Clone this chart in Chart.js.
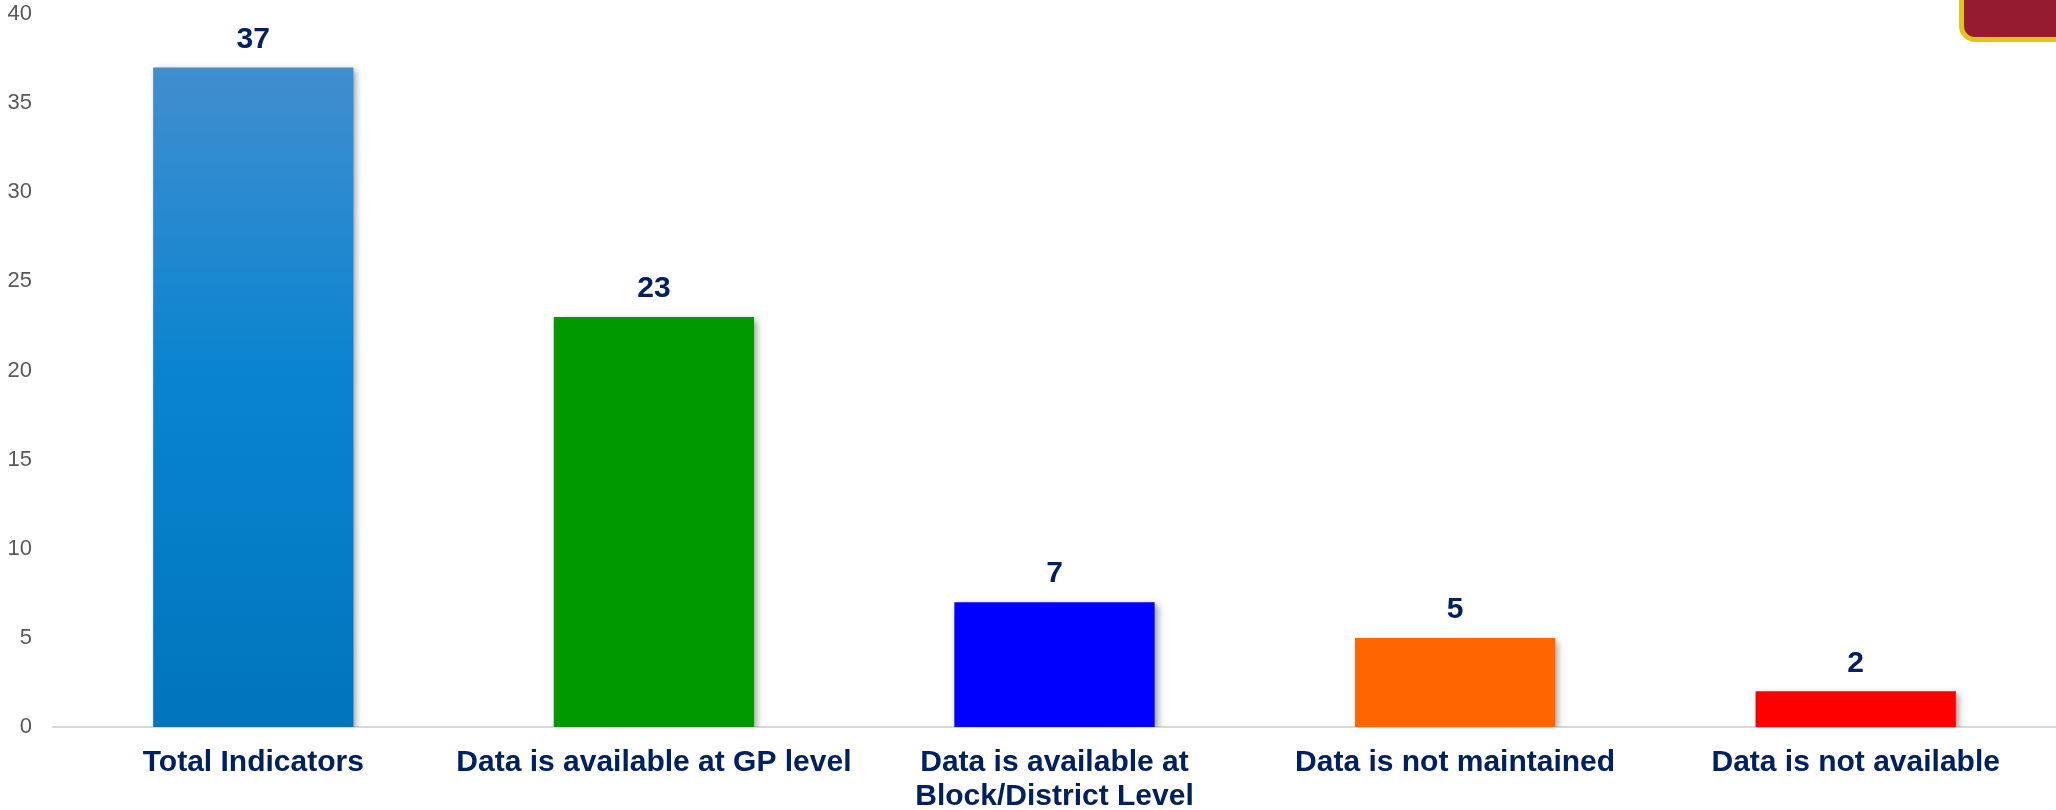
<!DOCTYPE html>
<html>
<head>
<meta charset="utf-8">
<script src="https://cdn.jsdelivr.net/npm/chart.js@4"></script>
<style>
  html, body { margin: 0; padding: 0; background: #fff; overflow: hidden; }
  #wrap { position: relative; width: 2056px; height: 810px; }
  #badge {
    position: absolute; left: 1959px; top: -28px; width: 120px; height: 60px;
    background: #951b31; border: 5px solid #e4c41c; border-radius: 16px;
  }
</style>
</head>
<body>
<div id="wrap">
  <canvas id="barChart"></canvas>
  <div id="badge"></div>
</div>
<script>
// Chart data
const categories = [
  'Total Indicators',
  'Data is available at GP level',
  ['Data is available at', 'Block/District Level'],
  'Data is not maintained',
  'Data is not available'
];
const counts = [37, 23, 7, 5, 2];
const barColors = [null, '#009900', '#0000ff', '#ff6600', '#ff0000'];
const yTicks = [0, 5, 10, 15, 20, 25, 30, 35, 40];

const fontFamily = "Arial, 'Liberation Sans', sans-serif";
const navy = '#002060';

// first bar has a light-to-dark blue gradient
function barFill(ctx) {
  const i = ctx.dataIndex;
  if (barColors[i]) return barColors[i];
  const area = ctx.chart.chartArea;
  if (!area) return '#0077c0';
  const g = ctx.chart.ctx.createLinearGradient(0, area.top, 0, area.bottom);
  g.addColorStop(0, '#4a90cf');
  g.addColorStop(0.5, '#0a84d0');
  g.addColorStop(1, '#0075bd');
  return g;
}

// soft drop shadow under the bars
const barShadow = {
  id: 'barShadow',
  beforeDatasetsDraw(chart) {
    const c = chart.ctx;
    c.save();
    c.shadowColor = 'rgba(0,0,0,0.4)';
    c.shadowBlur = 7;
    c.shadowOffsetX = 3;
    c.shadowOffsetY = 3;
  },
  afterDatasetsDraw(chart) {
    chart.ctx.restore();
  }
};

// value labels above each bar
const valueLabels = {
  id: 'valueLabels',
  afterDraw(chart) {
    const c = chart.ctx;
    const meta = chart.getDatasetMeta(0);
    c.save();
    c.font = 'bold 30px ' + fontFamily;
    c.fillStyle = navy;
    c.textAlign = 'center';
    c.textBaseline = 'middle';
    meta.data.forEach((bar, i) => {
      c.fillText(String(counts[i]), bar.x, bar.y - 28);
    });
    c.restore();
  }
};

const myChart = new Chart(document.getElementById('barChart'), {
  type: 'bar',
  data: {
    labels: categories,
    datasets: [{
      data: counts,
      backgroundColor: barFill,
      borderWidth: 0,
      barPercentage: 0.5,
      categoryPercentage: 1.0
    }]
  },
  options: {
    responsive: true,
    maintainAspectRatio: false,
    animation: false,
    layout: { padding: 0 },
    plugins: {
      legend: { display: false },
      tooltip: { enabled: false }
    },
    scales: {
      x: {
        grid: { display: false, drawTicks: false },
        border: { display: true, color: '#d9d9d9', width: 2 },
        ticks: {
          color: navy,
          padding: 19,
          maxRotation: 0,
          autoSkip: false,
          font: { family: fontFamily, size: 30, weight: 'bold', lineHeight: 1.13 }
        },
        afterFit(scale) { scale.height = 83; }
      },
      y: {
        min: 0,
        max: 40,
        afterBuildTicks(scale) { scale.ticks = yTicks.map(v => ({ value: v })); },
        grid: { display: false, drawTicks: false },
        border: { display: false },
        ticks: {
          color: '#595959',
          padding: 21,
          font: { family: fontFamily, size: 22 }
        },
        afterFit(scale) {
          scale.width = 53;
          scale.paddingTop = 14;
          scale.paddingBottom = 14;
        }
      }
    }
  },
  plugins: [barShadow, valueLabels]
});
</script>
</body>
</html>
